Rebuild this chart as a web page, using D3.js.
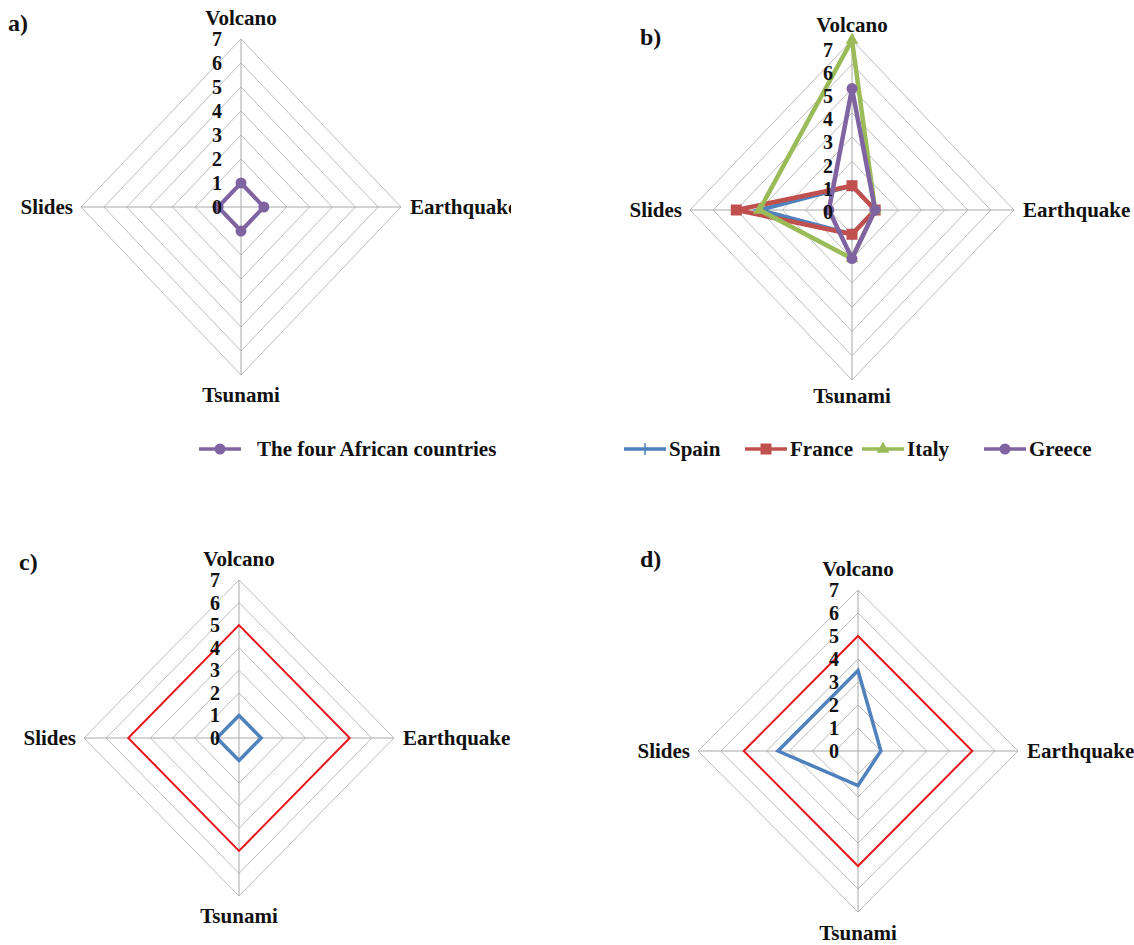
<!DOCTYPE html>
<html>
<head>
<meta charset="utf-8">
<script src="https://cdn.jsdelivr.net/npm/d3@7"></script>
<style>
  body { margin: 0; background: #fff; }
  svg { display: block; font-family: "Liberation Serif", "Times New Roman", serif; }
</style>
</head>
<body>
<div id="chart"></div>
<script>
// categorias e valores
const axes = ["Volcano", "Earthquake", "Tsunami", "Slides"];
const tickValues = [0, 1, 2, 3, 4, 5, 6, 7];

const africa = [1, 1, 1, 1];

const spain = [1, 1, 1, 4];
const france = [1, 1, 1, 5];
const italy = [7, 1, 2, 4];
const greece = [5, 1, 2, 1];

const referenceLevel = [5, 5, 5, 5];
const africaMean = [1, 1, 1, 1];
const europeMean = [3.5, 1, 1.5, 3.5];

const PURPLE = "#8064a2", BLUE = "#4f81bd", RED = "#c0504d", GREEN = "#9bbb59";
const PURE_RED = "#e8161c";

const svg = d3.select("#chart").append("svg")
  .attr("width", 1134)
  .attr("height", 945);

// painel a) cortado à direita como no original
svg.append("clipPath").attr("id", "clipA")
  .append("rect").attr("x", 0).attr("y", 0).attr("width", 511).attr("height", 480);

// angulo de cada eixo: Volcano em cima, sentido horario
const angle = (i) => (i * 2 * Math.PI) / axes.length;

function drawRadar(panel) {
  const g = svg.append("g");
  if (panel.clip) g.attr("clip-path", `url(#${panel.clip})`);

  const sx = d3.scaleLinear().domain([0, 7]).range([0, panel.rx]);
  const sy = d3.scaleLinear().domain([0, 7]).range([0, panel.ry]);
  const px = (i, v) => panel.cx + Math.sin(angle(i)) * sx(v);
  const py = (i, v) => panel.cy - Math.cos(angle(i)) * sy(v);

  // aneis da grade
  g.selectAll("path.ring")
    .data(tickValues.slice(1))
    .enter()
    .append("path")
    .attr("class", "ring")
    .attr("d", (t) =>
      d3.line()(axes.map((_, i) => [px(i, t), py(i, t)])) + "Z"
    )
    .attr("fill", "none")
    .attr("stroke", "#bdbdbd")
    .attr("stroke-width", 1);

  // raios
  g.selectAll("line.spoke")
    .data(axes)
    .enter()
    .append("line")
    .attr("x1", panel.cx)
    .attr("y1", panel.cy)
    .attr("x2", (_, i) => px(i, 7))
    .attr("y2", (_, i) => py(i, 7))
    .attr("stroke", "#a8a8a8")
    .attr("stroke-width", 1);

  // series
  panel.series.forEach((s) => {
    const pts = s.values.map((v, i) => [px(i, v), py(i, v)]);
    g.append("path")
      .attr("d", d3.line()(pts) + "Z")
      .attr("fill", "none")
      .attr("stroke", s.color)
      .attr("stroke-width", s.width)
      .attr("stroke-linejoin", "miter");

    if (s.marker) {
      pts.forEach((p) => drawMarker(g, s.marker, p[0], p[1], s.color));
    }
  });

  // rotulos das escalas (no painel b ficam um pouco mais juntos)
  const spread = panel.tickSpread || 1;
  const shift = panel.tickShift || 0;
  g.selectAll("text.tick")
    .data(tickValues)
    .enter()
    .append("text")
    .attr("x", panel.cx - 19)
    .attr("y", (t) => panel.cy - sy(t) * spread + shift)
    .attr("dy", "0.35em")
    .attr("text-anchor", "end")
    .attr("font-size", "20px")
    .attr("font-weight", "bold")
    .attr("fill", "#111")
    .text((t) => t);

  // rotulos das categorias
  const lab = (x, y, anchor, txt, dy) =>
    g.append("text")
      .attr("x", x).attr("y", y)
      .attr("dy", dy)
      .attr("text-anchor", anchor)
      .attr("font-size", "21px")
      .attr("font-weight", "bold")
      .attr("fill", "#111")
      .text(txt);

  lab(panel.cx, panel.cy - panel.ry - panel.topGap, "middle", axes[0], "0");
  lab(panel.cx + panel.rx + 9, panel.cy, "start", axes[1], "0.35em");
  lab(panel.cx, panel.cy + panel.ry + panel.bottomGap, "middle", axes[2], "0");
  lab(panel.cx - panel.rx - 8, panel.cy, "end", axes[3], "0.35em");

  // letra do painel
  svg.append("text")
    .attr("x", panel.letter[0])
    .attr("y", panel.letter[1])
    .attr("font-size", "24px")
    .attr("font-weight", "bold")
    .attr("fill", "#111")
    .text(panel.letter[2]);
}

function drawMarker(g, type, x, y, color) {
  if (type === "circle") {
    g.append("circle").attr("cx", x).attr("cy", y).attr("r", 5.5).attr("fill", color);
  } else if (type === "square") {
    g.append("rect").attr("x", x - 5.5).attr("y", y - 5.5)
      .attr("width", 11).attr("height", 11).attr("fill", color);
  } else if (type === "triangle") {
    g.append("path")
      .attr("d", d3.symbol().type(d3.symbolTriangle).size(70)())
      .attr("transform", `translate(${x},${y})`)
      .attr("fill", color);
  } else if (type === "tick") {
    g.append("line").attr("x1", x).attr("x2", x).attr("y1", y - 6).attr("y2", y + 6)
      .attr("stroke", color).attr("stroke-width", 1.5);
  }
}

drawRadar({
  cx: 241, cy: 207, rx: 160, ry: 168, topGap: 14, bottomGap: 27,
  clip: "clipA", letter: [8, 31, "a)"],
  series: [{ values: africa, color: PURPLE, width: 4, marker: "circle" }],
});

drawRadar({
  cx: 852, cy: 210, rx: 162, ry: 170, topGap: 8, bottomGap: 23,
  tickSpread: 0.955, tickShift: 2,
  letter: [640, 45, "b)"],
  series: [
    { values: spain, color: BLUE, width: 4, marker: "tick" },
    { values: france, color: RED, width: 4.5, marker: "square" },
    { values: italy, color: GREEN, width: 4.5, marker: "triangle" },
    { values: greece, color: PURPLE, width: 4.5, marker: "circle" },
  ],
});

drawRadar({
  cx: 239, cy: 738, rx: 155, ry: 158, topGap: 14, bottomGap: 27,
  letter: [19, 570, "c)"],
  series: [
    { values: referenceLevel, color: PURE_RED, width: 2 },
    { values: africaMean, color: BLUE, width: 3.5 },
  ],
});

drawRadar({
  cx: 858, cy: 751, rx: 160, ry: 161, topGap: 14, bottomGap: 28,
  letter: [640, 567, "d)"],
  series: [
    { values: referenceLevel, color: PURE_RED, width: 2 },
    { values: europeMean, color: BLUE, width: 3.5 },
  ],
});

// legendas
function legendItem(x, y, color, marker, label, textGap) {
  const g = svg.append("g");
  g.append("line").attr("x1", x).attr("x2", x + 42).attr("y1", y).attr("y2", y)
    .attr("stroke", color).attr("stroke-width", 3.5);
  drawMarker(g, marker, x + 21, y, color);
  g.append("text")
    .attr("x", x + 42 + textGap).attr("y", y).attr("dy", "0.35em")
    .attr("font-size", "21px")
    .attr("font-weight", "bold")
    .attr("fill", "#111")
    .text(label);
}

const legendA = [{ color: PURPLE, marker: "circle", label: "The four African countries", x: 199 }];
legendA.forEach((d) => legendItem(d.x, 449, d.color, d.marker, d.label, 16));

const legendB = [
  { color: BLUE, marker: "tick", label: "Spain", x: 624 },
  { color: RED, marker: "square", label: "France", x: 745 },
  { color: GREEN, marker: "triangle", label: "Italy", x: 862 },
  { color: PURPLE, marker: "circle", label: "Greece", x: 984 },
];
legendB.forEach((d) => legendItem(d.x, 449, d.color, d.marker, d.label, 3));
</script>
</body>
</html>
